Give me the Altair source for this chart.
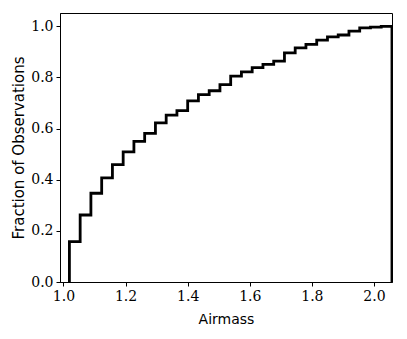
import altair as alt
import pandas as pd

# Bin edges of the cumulative airmass histogram (30 bins)
airmass_edges = [
    1.0193, 1.0539, 1.0885, 1.1232, 1.1578, 1.1924, 1.2270, 1.2616,
    1.2963, 1.3309, 1.3655, 1.4001, 1.4347, 1.4694, 1.5040, 1.5386,
    1.5732, 1.6078, 1.6425, 1.6771, 1.7117, 1.7463, 1.7809, 1.8156,
    1.8502, 1.8848, 1.9194, 1.9540, 1.9887, 2.0233, 2.0579,
]
# Cumulative fraction of observations in each bin
cum_fraction = [
    0.158, 0.262, 0.347, 0.407, 0.459, 0.509, 0.550, 0.581, 0.622, 0.653,
    0.670, 0.708, 0.733, 0.748, 0.772, 0.805, 0.822, 0.838, 0.851, 0.864,
    0.896, 0.916, 0.929, 0.946, 0.959, 0.966, 0.981, 0.994, 0.997, 1.000,
]
x_ticks = [1.0, 1.2, 1.4, 1.6, 1.8, 2.0]
y_ticks = [0.0, 0.2, 0.4, 0.6, 0.8, 1.0]

# step outline (like matplotlib histtype='step')
xs = [airmass_edges[0]] + airmass_edges[:-1] + [airmass_edges[-1], airmass_edges[-1]]
ys = [0.0] + cum_fraction + [cum_fraction[-1], 0.0]
df = pd.DataFrame({"airmass": xs, "frac": ys, "order": list(range(len(xs)))})

W, H = 332, 269

line = alt.Chart(df).mark_line(
    interpolate="step-after", color="black", strokeWidth=2.8,
    strokeJoin="miter", strokeCap="butt", clip=True
).encode(
    x=alt.X("airmass:Q",
            scale=alt.Scale(domain=[0.989, 2.058], nice=False, zero=False),
            axis=alt.Axis(title="Airmass", values=x_ticks, format=".1f",
                          titleBaseline="alphabetic", titleY=41, titleFontSize=14,
                          titleColor="#000000")),
    y=alt.Y("frac:Q",
            scale=alt.Scale(domain=[0, 1.052], nice=False),
            axis=alt.Axis(title="Fraction of Observations", values=y_ticks, format=".1f",
                          titleAngle=270, titleBaseline="alphabetic", titleFontSize=15,
                          titleColor="#000000",
                          titleX=-37, titleY=H / 2, titleAlign="center")),
    order="order:Q",
)

chart = line.properties(
    width=W, height=H,
    autosize=alt.AutoSizeParams(type="none"),
    padding={"left": 52, "top": 5, "right": 7, "bottom": 48},
).configure_view(
    stroke="black", strokeWidth=1
).configure_axis(
    grid=False,
    domainColor="black", domainWidth=1,
    tickColor="black", tickSize=4, tickWidth=1,
    labelFont="DejaVu Serif", labelFontSize=14, labelColor="black", labelPadding=3,
    titleFont="DejaVu Sans", titleFontWeight="normal",
)

chart.save("out.html", embed_options={"renderer": "svg", "actions": False})
